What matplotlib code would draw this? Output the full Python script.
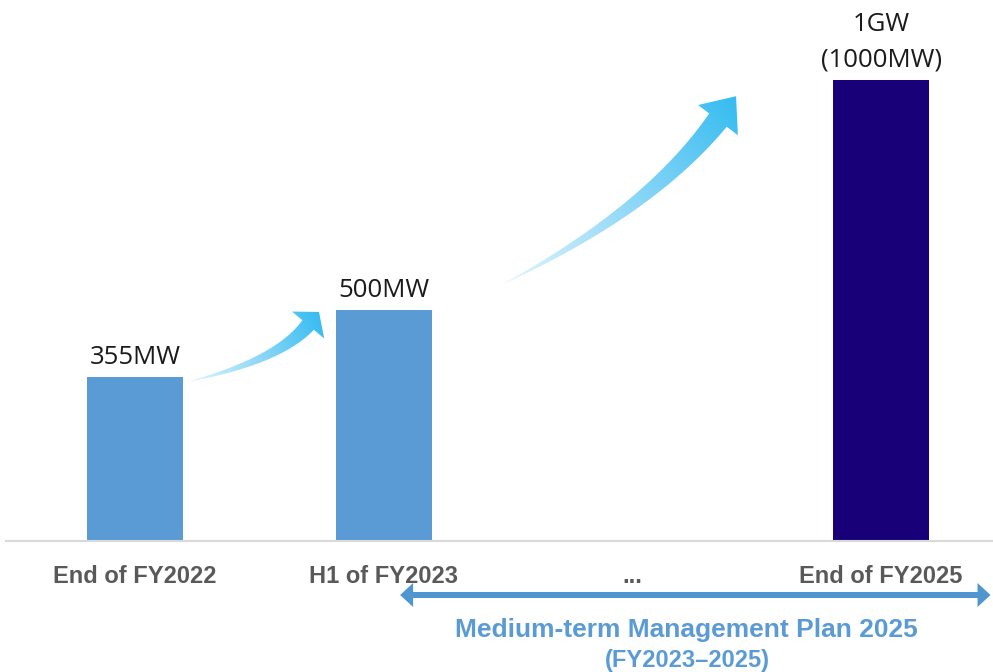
import numpy as np
import matplotlib
matplotlib.use("Agg")
import matplotlib.pyplot as plt
from matplotlib.patches import Polygon
from matplotlib.colors import LinearSegmentedColormap

# capacity milestones
categories = ["End of FY2022", "H1 of FY2023", "...", "End of FY2025"]
capacity_mw = [355, 500, None, 1000]
value_labels = ["355MW", "500MW", None, "1GW\n(1000MW)"]
bar_colors = ["#5b9bd5", "#5b9bd5", None, "#170078"]

# growth arrows: tail, bend and head-base points in (category, MW)
growth_arrows = [
    ((0.21, 345), (0.575, 390), (0.696, 468)),
    ((1.48, 557), (2.07, 717), (2.344, 912)),
]
plan_span = (1.066, 3.44)
plan_title = "Medium-term Management Plan 2025"
plan_years = "(FY2023\u20132025)"

W, H = 993, 672
fig = plt.figure(figsize=(W / 100, H / 100), dpi=100)

base_px = 541
ax = fig.add_axes([6 / W, (H - base_px) / H, 1 - 6 / W, base_px / H])
px_per_cat = 248.7
px_per_mw = 0.4615
ax.set_xlim((6 - 135) / px_per_cat, (W - 135) / px_per_cat)
ax.set_ylim(0, base_px / px_per_mw)

for i, (v, col, lab) in enumerate(zip(capacity_mw, bar_colors, value_labels)):
    if v is None:
        continue
    ax.bar(i, v, width=0.386, color=col, zorder=2)
    ax.annotate(lab, (i, v), xytext=(0, 5), textcoords="offset points",
                ha="center", va="bottom", fontsize=18.5, family="Open Sans",
                color="#1a1a1a", linespacing=1.55)

ax.set_xticks(range(len(categories)))
ax.set_xticklabels(categories, fontsize=17, fontweight="bold",
                   family="Liberation Sans", color="#595959")
ax.tick_params(axis="x", length=0, pad=17)
ax.set_yticks([])
for side in ["top", "left", "right"]:
    ax.spines[side].set_visible(False)
ax.spines["bottom"].set_color("#d9d9d9")
ax.spines["bottom"].set_linewidth(1.5)

# overlay in pixel units (y pointing down) for the decorations
ov = fig.add_axes([0, 0, 1, 1], zorder=5)
ov.set_xlim(0, W)
ov.set_ylim(H, 0)
ov.axis("off")


def to_px(x, y):
    disp = ax.transData.transform((x, y))
    return ov.transData.inverted().transform(disp)


cmap = LinearSegmentedColormap.from_list("sky", ["#e2f5fd", "#8fd8f7", "#36bcf1"])


def curved_arrow(p0, c, p2, shaft_w, head_w, head_len):
    p0, c, p2 = to_px(*p0), to_px(*c), to_px(*p2)
    t = np.linspace(0, 1, 80)[:, None]
    pts = (1 - t) ** 2 * p0 + 2 * (1 - t) * t * c + t ** 2 * p2
    der = 2 * (1 - t) * (c - p0) + 2 * t * (p2 - c)
    der = der / np.linalg.norm(der, axis=1, keepdims=True)
    nrm = np.column_stack([-der[:, 1], der[:, 0]])
    half = 0.5 * shaft_w * t ** 0.9
    upper = pts + nrm * half
    lower = pts - nrm * half
    d_end, n_end = der[-1], nrm[-1]
    tip = p2 + d_end * head_len
    head = [p2 + n_end * head_w / 2, tip, p2 - n_end * head_w / 2]
    verts = np.vstack([upper, head, lower[::-1]])
    patch = Polygon(verts, closed=True, facecolor="none", edgecolor="none")
    ov.add_patch(patch)

    xmin, ymin = verts.min(axis=0) - 2
    xmax, ymax = verts.max(axis=0) + 2
    xs = np.linspace(xmin, xmax, 200)
    ys = np.linspace(ymin, ymax, 200)
    X, Y = np.meshgrid(xs, ys)
    d = tip - p0
    g = ((X - p0[0]) * d[0] + (Y - p0[1]) * d[1]) / (d @ d)
    img = ov.imshow(np.clip(g, 0, 1), cmap=cmap, vmin=0, vmax=1,
                    extent=(xmin, xmax, ymin, ymax), origin="lower",
                    aspect="auto", interpolation="bilinear")
    img.set_clip_path(patch)


curved_arrow(*growth_arrows[0], shaft_w=15, head_w=42, head_len=17)
curved_arrow(*growth_arrows[1], shaft_w=22, head_w=50, head_len=30)
ov.set_xlim(0, W)
ov.set_ylim(H, 0)

# double-headed span arrow for the medium-term plan
x0 = to_px(plan_span[0], 0)[0]
x1 = to_px(plan_span[1], 0)[0]
ya, shaft, hw, hl = 595, 6, 24, 13
span = np.array([
    (x0, ya), (x0 + hl, ya - hw / 2), (x0 + hl, ya - shaft / 2),
    (x1 - hl, ya - shaft / 2), (x1 - hl, ya - hw / 2), (x1, ya),
    (x1 - hl, ya + hw / 2), (x1 - hl, ya + shaft / 2),
    (x0 + hl, ya + shaft / 2), (x0 + hl, ya + hw / 2),
])
ov.add_patch(Polygon(span, closed=True, facecolor="#4f96d0", edgecolor="none"))

ov.text(686, 630, plan_title, ha="center", va="center", fontsize=19,
        fontweight="bold", family="Liberation Sans", color="#5b9bd5")
ov.text(687, 660, plan_years, ha="center", va="center", fontsize=17,
        fontweight="bold", family="Liberation Sans", color="#5b9bd5")

fig.savefig("out.png", dpi=100)
